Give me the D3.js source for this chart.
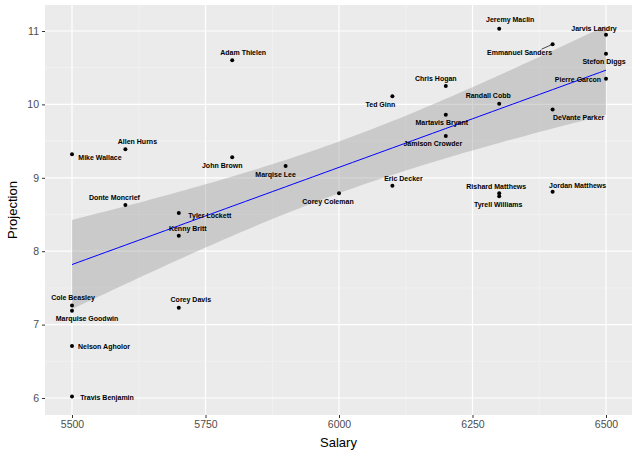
<!DOCTYPE html>
<html><head><meta charset="utf-8">
<script src="https://cdn.jsdelivr.net/npm/d3@7"></script>
<style>body{margin:0;background:#fff}text{font-family:"Liberation Sans",Arial,sans-serif}</style>
</head><body><div id="chart"></div>
<script>
const players = ["Jeremy Maclin","Jarvis Landry","Emmanuel Sanders","Stefon Diggs","Adam Thielen","Pierre Garcon","Chris Hogan","Ted Ginn","Randall Cobb","DeVante Parker","Martavis Bryant","Jamison Crowder","Allen Hurns","Mike Wallace","John Brown","Marqise Lee","Eric Decker","Corey Coleman","Rishard Matthews","Tyrell Williams","Jordan Matthews","Donte Moncrief","Tyler Lockett","Kenny Britt","Cole Beasley","Marquise Goodwin","Corey Davis","Nelson Agholor","Travis Benjamin"];
const salary = [6300,6500,6400,6500,5800,6500,6200,6100,6300,6400,6200,6200,5600,5500,5800,5900,6100,6000,6300,6300,6400,5600,5700,5700,5500,5500,5700,5500,5500];
const projection = [11.03,10.95,10.82,10.69,10.6,10.35,10.25,10.11,10.01,9.93,9.86,9.57,9.39,9.32,9.28,9.16,8.89,8.79,8.79,8.75,8.81,8.63,8.52,8.21,7.26,7.19,7.23,6.71,6.02];
// label offsets in px (repel-style placement)
const labelDx = [11,-12,-33,-2,11,-28,-10,-12,-11,26,-4,-13,12,28,-10,-10,11,-11,-3,-1,25,-11,31,9,1,15,12,32,35];
const labelDy = [-9,-6,8,8,-8,1,-8,8,-8,8,8,8,-8,3,8,8,-7,8,-7,8,-6,-7,2,-7,-8,8,-8,1,1];
const xTicks = [5500,5750,6000,6250,6500];
const yTicks = [6,7,8,9,10,11];

const W = 640, H = 457, L = 45, R = 632, T = 5, B = 415;
const svg = d3.select("#chart").append("svg").attr("width", W).attr("height", H);
const x = d3.scaleLinear().domain([5500,6500]).range([72,606]);
const y = d3.scaleLinear().domain([6,11]).range([398,31]);

svg.append("rect").attr("x",L).attr("y",T).attr("width",R-L).attr("height",B-T).attr("fill","#ebebeb");
// minor grid
[5.5].concat(yTicks.map(d=>d+0.5)).forEach(v=>{
  if (y(v) > T && y(v) < B) svg.append("line").attr("x1",L).attr("x2",R).attr("y1",y(v)).attr("y2",y(v)).attr("stroke","#f5f5f5").attr("stroke-width",0.6);
});
[5375].concat(xTicks.map(d=>d+125)).forEach(v=>{
  if (x(v) > L && x(v) < R) svg.append("line").attr("x1",x(v)).attr("x2",x(v)).attr("y1",T).attr("y2",B).attr("stroke","#f5f5f5").attr("stroke-width",0.6);
});
xTicks.forEach(v=>svg.append("line").attr("x1",x(v)).attr("x2",x(v)).attr("y1",T).attr("y2",B).attr("stroke","#fff").attr("stroke-width",1.2));
yTicks.forEach(v=>svg.append("line").attr("x1",L).attr("x2",R).attr("y1",y(v)).attr("y2",y(v)).attr("stroke","#fff").attr("stroke-width",1.2));

// axes
const xa = svg.append("g").attr("transform",`translate(0,${B})`).call(d3.axisBottom(x).tickValues(xTicks).tickFormat(d3.format("d")).tickSize(3).tickPadding(3));
const ya = svg.append("g").attr("transform",`translate(${L},0)`).call(d3.axisLeft(y).tickValues(yTicks).tickFormat(d3.format("d")).tickSize(3).tickPadding(3));
[xa,ya].forEach(g=>{g.select(".domain").remove();g.selectAll("line").attr("stroke","#333");g.selectAll("text").attr("fill","#4d4d4d").style("font-size","10.5px").style("font-family","Liberation Sans, Arial");});
svg.append("text").attr("x",(L+R)/2).attr("y",447).attr("text-anchor","middle").style("font-size","13px").text("Salary");
svg.append("text").attr("transform",`translate(17,${(T+B)/2}) rotate(-90)`).attr("text-anchor","middle").style("font-size","13px").text("Projection");

// linear fit with 95% CI
const n = salary.length, mx = d3.mean(salary), my = d3.mean(projection);
let sxx = 0, sxy = 0;
for (let i=0;i<n;i++){sxx += (salary[i]-mx)**2; sxy += (salary[i]-mx)*(projection[i]-my);}
const b1 = sxy/sxx, b0 = my - b1*mx;
let sse = 0; for (let i=0;i<n;i++) sse += (projection[i]-b0-b1*salary[i])**2;
const s = Math.sqrt(sse/(n-2)), tq = 2.052;
const grid = d3.range(0,81).map(i=>5500+i*12.5);
const band = grid.map(v=>{const f=b0+b1*v, se=s*Math.sqrt(1/n+(v-mx)**2/sxx); return {v,f,lo:f-tq*se,hi:f+tq*se};});
svg.append("path").datum(band).attr("fill","#999").attr("fill-opacity",0.4)
  .attr("d",d3.area().x(d=>x(d.v)).y0(d=>y(d.lo)).y1(d=>y(d.hi)));
svg.append("path").datum(band).attr("fill","none").attr("stroke","#0000ff").attr("stroke-width",1)
  .attr("d",d3.line().x(d=>x(d.v)).y(d=>y(d.f)));

// points and labels
players.forEach((p,i)=>{
  const px = x(salary[i]), py = y(projection[i]);
  const lx = px+labelDx[i], ly = py+labelDy[i];
  if (Math.hypot(labelDx[i],labelDy[i]) > 30 && Math.abs(labelDy[i])>5)
    svg.append("line").attr("x1",px).attr("y1",py).attr("x2",lx+22).attr("y2",ly-3).attr("stroke","#000").attr("stroke-width",0.7);
  svg.append("circle").attr("cx",px).attr("cy",py).attr("r",2).attr("fill","#000");
  svg.append("text").attr("x",lx).attr("y",ly+2.5).attr("text-anchor","middle").style("font-size","7px").style("font-weight","bold").text(p);
});
</script></body></html>
